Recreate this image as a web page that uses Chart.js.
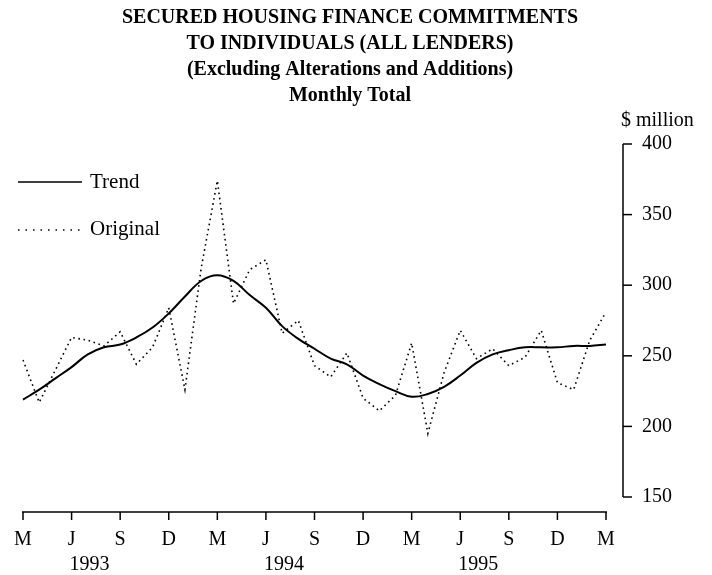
<!DOCTYPE html>
<html>
<head>
<meta charset="utf-8">
<title>Secured Housing Finance Commitments</title>
<script src="https://cdn.jsdelivr.net/npm/chart.js@4.4.0/dist/chart.umd.min.js"></script>
<style>
  html, body { margin: 0; padding: 0; background: #fff; }
  #chart { display: block; }
</style>
</head>
<body>
<canvas id="chart" width="712" height="575"></canvas>
<script>
// Monthly totals, March 1993 to March 1996 ($ million)
const months = [
  'Mar 1993', 'Apr 1993', 'May 1993', 'Jun 1993', 'Jul 1993', 'Aug 1993',
  'Sep 1993', 'Oct 1993', 'Nov 1993', 'Dec 1993', 'Jan 1994', 'Feb 1994',
  'Mar 1994', 'Apr 1994', 'May 1994', 'Jun 1994', 'Jul 1994', 'Aug 1994',
  'Sep 1994', 'Oct 1994', 'Nov 1994', 'Dec 1994', 'Jan 1995', 'Feb 1995',
  'Mar 1995', 'Apr 1995', 'May 1995', 'Jun 1995', 'Jul 1995', 'Aug 1995',
  'Sep 1995', 'Oct 1995', 'Nov 1995', 'Dec 1995', 'Jan 1996', 'Feb 1996',
  'Mar 1996'
];

const trend = [
  219, 226, 234, 242, 251, 256, 258, 263, 270, 280, 292, 303,
  307, 303, 293, 284, 271, 262, 255, 248, 244, 236, 230, 225,
  221, 223, 228, 236, 245, 251, 254, 256, 256, 256, 257, 257,
  258
];

const original = [
  247, 217, 240, 263, 261, 257, 267, 244, 256, 284, 226, 312,
  374, 287, 311, 318, 266, 275, 243, 235, 252, 220, 211, 222,
  259, 195, 238, 268, 248, 255, 243, 249, 268, 231, 226, 261,
  281
];

// Axis labels
const quarterLabels = ['M', 'J', 'S', 'D', 'M', 'J', 'S', 'D', 'M', 'J', 'S', 'D', 'M'];
const yearLabels = ['1993', '1994', '1995'];
const yTicks = [150, 200, 250, 300, 350, 400];

const titleLines = [
  'SECURED HOUSING FINANCE COMMITMENTS',
  'TO INDIVIDUALS (ALL LENDERS)',
  '(Excluding Alterations and Additions)',
  'Monthly Total'
];

const SERIF = '"Liberation Serif", "DejaVu Serif", serif';

// Draws the title, legend and the detached axes in the old print style
const paperAxes = {
  id: 'paperAxes',
  afterDraw(chart) {
    const ctx = chart.ctx;
    const xs = chart.scales.x;
    const ys = chart.scales.y;
    const axisX = xs.right + 17;
    const axisY = ys.bottom + 15;

    ctx.save();
    ctx.fillStyle = '#000';
    ctx.strokeStyle = '#000';

    // title
    ctx.font = 'bold 20px ' + SERIF;
    ctx.textAlign = 'center';
    ctx.textBaseline = 'middle';
    titleLines.forEach(function(line, i) {
      ctx.fillText(line, 350, 18 + i * 26);
    });

    // y axis on the right
    ctx.lineWidth = 1.5;
    ctx.beginPath();
    ctx.moveTo(axisX, ys.getPixelForValue(yTicks[yTicks.length - 1]));
    ctx.lineTo(axisX, ys.getPixelForValue(yTicks[0]));
    ctx.stroke();

    ctx.font = '20px ' + SERIF;
    ctx.textAlign = 'left';
    yTicks.forEach(function(v) {
      const py = ys.getPixelForValue(v);
      ctx.beginPath();
      ctx.moveTo(axisX, py);
      ctx.lineTo(axisX + 9, py);
      ctx.stroke();
      ctx.fillText(String(v), axisX + 19, py);
    });
    ctx.fillText('$ million', axisX - 2, 121);

    // x axis below the plot
    ctx.beginPath();
    ctx.moveTo(xs.getPixelForValue(0) - 1, axisY);
    ctx.lineTo(xs.getPixelForValue(months.length - 1) + 1, axisY);
    ctx.stroke();

    ctx.textAlign = 'center';
    quarterLabels.forEach(function(lbl, i) {
      const px = xs.getPixelForValue(i * 3);
      ctx.beginPath();
      ctx.moveTo(px, axisY);
      ctx.lineTo(px, axisY + 8);
      ctx.stroke();
      ctx.fillText(lbl, px, axisY + 28);
    });

    ctx.textAlign = 'left';
    yearLabels.forEach(function(yr, i) {
      const px = xs.getPixelForValue(3 + i * 12);
      ctx.fillText(yr, px - 2, axisY + 53);
    });

    // legend
    ctx.font = '21px ' + SERIF;
    ctx.lineWidth = 1.5;
    ctx.beginPath();
    ctx.moveTo(18, 182);
    ctx.lineTo(82, 182);
    ctx.stroke();
    ctx.fillText('Trend', 90, 182);

    ctx.setLineDash([1.5, 6]);
    ctx.beginPath();
    ctx.moveTo(18, 230);
    ctx.lineTo(80, 230);
    ctx.stroke();
    ctx.setLineDash([]);
    ctx.fillText('Original', 90, 229);

    ctx.restore();
  }
};

new Chart(document.getElementById('chart'), {
  type: 'line',
  data: {
    labels: months,
    datasets: [
      {
        label: 'Trend',
        data: trend,
        borderColor: '#000',
        borderWidth: 2,
        tension: 0.4,
        pointRadius: 0,
        fill: false
      },
      {
        label: 'Original',
        data: original,
        borderColor: '#000',
        borderWidth: 1.6,
        borderDash: [1.6, 3.6],
        tension: 0,
        pointRadius: 0,
        fill: false
      }
    ]
  },
  options: {
    responsive: false,
    animation: false,
    devicePixelRatio: 1,
    layout: {
      padding: { left: 23, right: 106, top: 144, bottom: 78 }
    },
    plugins: {
      legend: { display: false },
      title: { display: false },
      tooltip: { enabled: false }
    },
    scales: {
      x: {
        type: 'category',
        offset: false,
        display: false
      },
      y: {
        min: 150,
        max: 400,
        display: false
      }
    }
  },
  plugins: [paperAxes]
});
</script>
</body>
</html>
